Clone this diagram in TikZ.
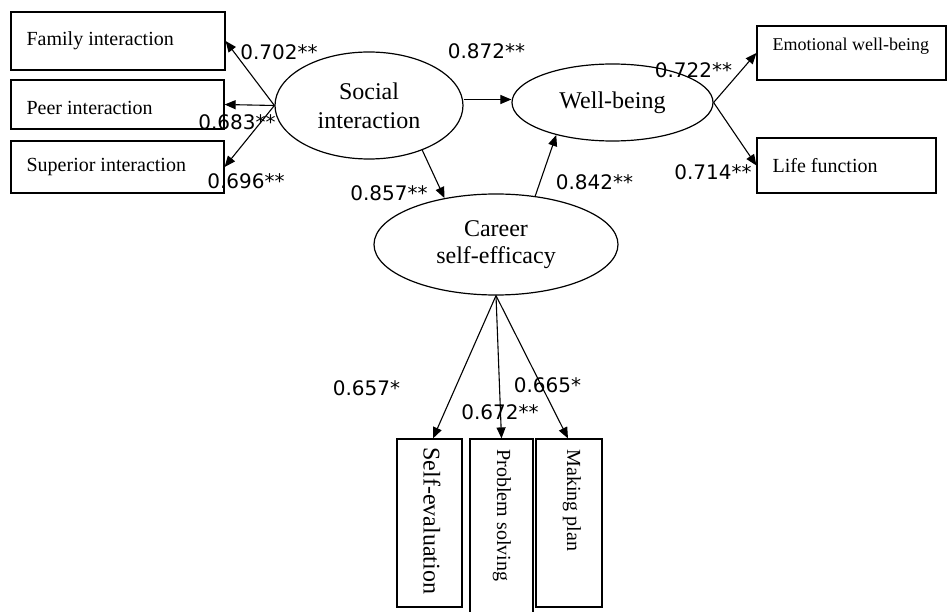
\documentclass[tikz,border=0pt]{standalone}
\usepackage{fontspec}
\setmainfont{Liberation Serif}
\newfontfamily\labfont{DejaVu Sans}
\usetikzlibrary{arrows.meta,shapes.geometric}
\begin{document}
\begin{tikzpicture}[x=1pt,y=-1pt,
  box/.style={draw, line width=1.2pt, rectangle, inner sep=0pt},
  ell/.style={draw, ellipse, line width=1.2pt, inner sep=0pt, align=center},
  txt/.style={inner sep=0pt, anchor=west},
  lab/.style={font=\labfont\fontsize{20}{24}\selectfont, inner sep=0pt},
  arr/.style={-{Triangle[length=11pt,width=9pt]}, line width=1.1pt}]
\useasboundingbox (0,0) rectangle (948,612);

% left boxes
\node[box, minimum width=214pt, minimum height=58pt] (fam) at (118,41) {};
\node[box, minimum width=213pt, minimum height=49pt] (peer) at (117.5,104.5) {};
\node[box, minimum width=213pt, minimum height=52pt] (sup) at (117.5,167) {};
\node[txt, font=\fontsize{20}{24}\selectfont] (famt) at ([xshift=16pt]fam.west) {Family interaction};
\node[txt, font=\fontsize{20}{24}\selectfont] (peert) at ([xshift=16pt,yshift=-3pt]peer.west) {Peer interaction};
\node[txt, font=\fontsize{20}{24}\selectfont] (supt) at ([xshift=16pt]sup.west) {Superior interaction};

% right boxes
\node[box, minimum width=189pt, minimum height=54pt] (emo) at (851.5,53) {};
\node[box, minimum width=179pt, minimum height=55pt] (life) at (846.5,165.5) {};
\node[txt, font=\fontsize{18}{22}\selectfont] (emot) at ([xshift=16pt,yshift=7pt]emo.west) {Emotional well-being};
\node[txt, font=\fontsize{20}{24}\selectfont] (lifet) at ([xshift=16pt]life.west) {Life function};

% bottom boxes
\node[box, minimum width=65pt, minimum height=168pt] (se) at (429.5,523) {};
\node[box, minimum width=63pt, minimum height=186pt] (ps) at (501.5,532) {};
\node[box, minimum width=66pt, minimum height=168pt] (mp) at (569,523) {};
\node[txt, rotate=-90, font=\fontsize{24}{28}\selectfont] (set) at ([xshift=2.5pt,yshift=-9pt]se.north) {Self-evaluation};
\node[txt, rotate=-90, font=\fontsize{20}{24}\selectfont] (pst) at ([xshift=0.5pt,yshift=-11pt]ps.north) {Problem solving};
\node[txt, rotate=-90, font=\fontsize{20}{24}\selectfont] (mpt) at ([xshift=3pt,yshift=-11pt]mp.north) {Making plan};

% latent variables
\node[ell, minimum width=188pt, minimum height=107pt, font=\fontsize{24}{29}\selectfont] (soc) at (369,105.5) {Social\\interaction};
\node[ell, minimum width=201pt, minimum height=77pt, font=\fontsize{24}{29}\selectfont] (well) at (612.5,102.5) {Well-being};
\node[ell, minimum width=244pt, minimum height=101pt, font=\fontsize{24}{27}\selectfont] (car) at (496,244.5) {Career\\self-efficacy};

% connectors
\draw[arr] (soc.west) -- (fam.east);
\draw[arr] (soc.west) -- (peer.east);
\draw[arr] (soc.west) -- (sup.east);
\draw[arr] ([yshift=3pt]soc.east |- well.west) -- ([yshift=3pt]well.west);
\draw[arr] (soc.-40) -- (car.138);
\draw[arr] (car.51) -- (well.210.5);
\draw[arr] (well.east) -- (emo.west);
\draw[arr] (well.east) -- (life.west);
\draw[arr] (car.south) -- ([xshift=3.5pt]se.north);
\draw[arr] (car.south) -- (ps.north);
\draw[arr] (car.south) -- ([xshift=-1pt]mp.north);

% coefficients
\node[lab] (l1) at (279,52) {0.702**};
\node[lab] (l2) at (237,122) {0.683**};
\node[lab] (l3) at (246,181) {0.696**};
\node[lab] (l4) at (389,193) {0.857**};
\node[lab] (l5) at (486.5,51) {0.872**};
\node[lab] (l6) at (594.5,182) {0.842**};
\node[lab] (l7) at (693.5,70) {0.722**};
\node[lab] (l8) at (713,172) {0.714**};
\node[lab] (l9) at (366.5,388) {0.657*};
\node[lab] (l10) at (547.5,385) {0.665*};
\node[lab] (l11) at (500,412) {0.672**};
\end{tikzpicture}
\end{document}
